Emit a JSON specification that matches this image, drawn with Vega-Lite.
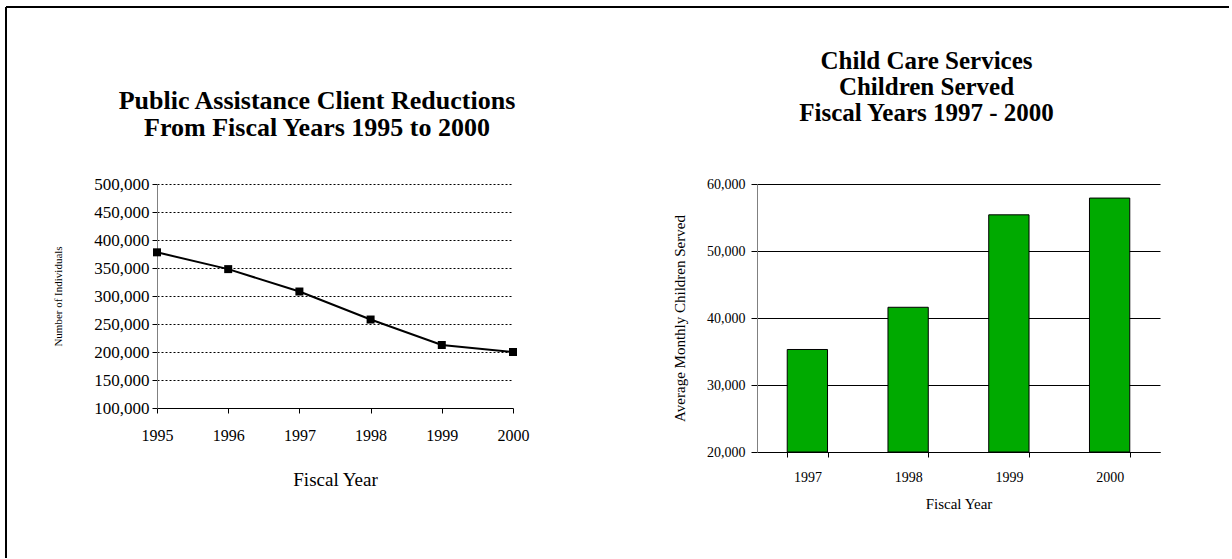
{
  "$schema": "https://vega.github.io/schema/vega-lite/v6.json",
  "background": "white",
  "padding": {"left": 5, "top": 6, "right": 0, "bottom": 0},
  "columns": 3,
  "spacing": 0,
  "bounds": "flush",
  "align": "each",
  "config": {
    "view": {"stroke": null},
    "font": "Liberation Serif",
    "axis": {
      "labelFont": "Liberation Serif",
      "titleFont": "Liberation Serif",
      "labelColor": "black",
      "titleColor": "black",
      "tickColor": "black",
      "domainColor": "black",
      "titleFontWeight": "normal"
    },
    "title": {"font": "Liberation Serif", "color": "black", "fontWeight": "bold"}
  },
  "concat": [
    {
      "width": 151,
      "height": 177,
      "view": {"stroke": "black", "strokeWidth": 2, "strokeDash": [151, 328, 177, 0]},
      "data": {"values": []},
      "mark": "rule",
      "encoding": {}
    },
    {
      "width": 600,
      "height": 1,
      "view": {"stroke": "black", "strokeWidth": 2, "strokeDash": [600, 602]},
      "data": {"values": []},
      "mark": "rule",
      "encoding": {}
    },
    {
      "width": 474,
      "height": 1,
      "view": {"stroke": "black", "strokeWidth": 2, "strokeDash": [472, 478]},
      "data": {"values": []},
      "mark": "rule",
      "encoding": {}
    },
    {
      "width": 1,
      "height": 374,
      "view": {"stroke": "black", "strokeWidth": 2, "strokeDash": [0, 376, 374, 0]},
      "data": {"values": []},
      "mark": "rule",
      "encoding": {}
    },
    {
      "width": 356,
      "height": 224,
      "title": {
        "text": ["Public Assistance Client Reductions", "From Fiscal Years 1995 to 2000"],
        "fontSize": 26,
        "lineHeight": 27,
        "offset": 34,
        "dx": -18
      },
      "data": {
        "values": [
          {"year": "1995", "clients": 378000},
          {"year": "1996", "clients": 348000},
          {"year": "1997", "clients": 308000},
          {"year": "1998", "clients": 258000},
          {"year": "1999", "clients": 212500},
          {"year": "2000", "clients": 200000}
        ]
      },
      "encoding": {
        "x": {
          "field": "year",
          "type": "ordinal",
          "scale": {"type": "point", "padding": 0},
          "axis": {
            "title": "Fiscal Year",
            "labelAngle": 0,
            "labelFontSize": 16,
            "titleFontSize": 19,
            "tickSize": 5,
            "labelPadding": 14,
            "titlePadding": 27,
            "grid": false
          }
        },
        "y": {
          "field": "clients",
          "type": "quantitative",
          "scale": {"domain": [100000, 500000], "nice": false, "zero": false},
          "axis": {
            "title": "Number of Individuals",
            "values": [100000, 150000, 200000, 250000, 300000, 350000, 400000, 450000, 500000],
            "format": ",d",
            "labelFontSize": 17,
            "titleFontSize": 11,
            "tickSize": 5,
            "labelPadding": 3,
            "titlePadding": 30,
            "grid": true,
            "gridColor": "black",
            "gridDash": [2, 2],
            "domainColor": "#808080"
          }
        }
      },
      "layer": [
        {"mark": {"type": "line", "color": "black", "strokeWidth": 2}},
        {"mark": {"type": "point", "shape": "square", "filled": true, "color": "black", "opacity": 1, "size": 64}}
      ]
    },
    {
      "width": 403,
      "height": 268,
      "title": {
        "text": ["Child Care Services", "Children Served", "Fiscal Years 1997 - 2000"],
        "fontSize": 25,
        "lineHeight": 26,
        "offset": 51,
        "dx": -32
      },
      "data": {
        "values": [
          {"year": "1997", "children": 35300},
          {"year": "1998", "children": 41600},
          {"year": "1999", "children": 55400},
          {"year": "2000", "children": 57900}
        ]
      },
      "mark": {"type": "bar", "fill": "#00aa00", "stroke": "black", "strokeWidth": 1},
      "encoding": {
        "x": {
          "field": "year",
          "type": "ordinal",
          "scale": {"paddingInner": 0.6, "paddingOuter": 0.3},
          "axis": {
            "title": "Fiscal Year",
            "labelAngle": 0,
            "tickBand": "extent",
            "labelFontSize": 14,
            "titleFontSize": 15,
            "tickSize": 5,
            "labelPadding": 13,
            "titlePadding": 12
          }
        },
        "y": {
          "field": "children",
          "type": "quantitative",
          "scale": {"domain": [20000, 60000], "nice": false, "zero": false, "clamp": true},
          "axis": {
            "title": "Average Monthly Children Served",
            "values": [20000, 30000, 40000, 50000, 60000],
            "format": ",d",
            "labelFontSize": 14,
            "titleFontSize": 15,
            "tickSize": 6,
            "labelPadding": 6,
            "titlePadding": 19,
            "grid": true,
            "gridColor": "black",
            "gridWidth": 1,
            "domainColor": "#808080"
          }
        }
      }
    }
  ]
}
